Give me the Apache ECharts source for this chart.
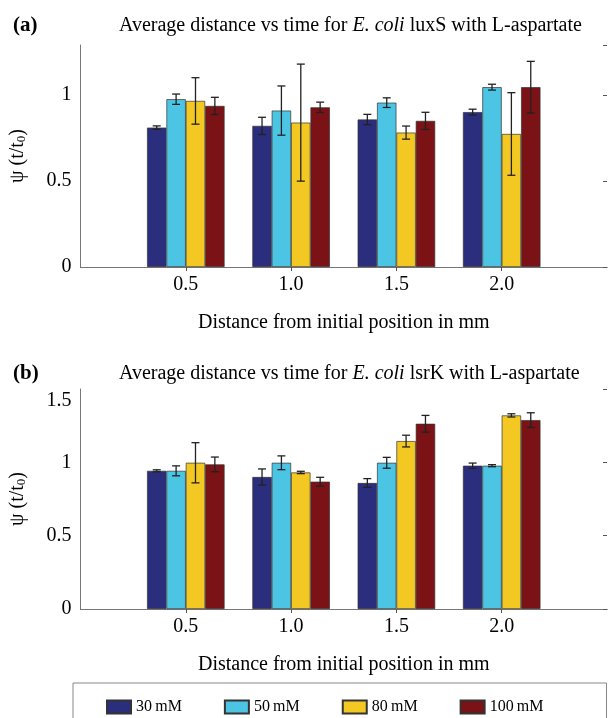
<!DOCTYPE html>
<html>
<head>
<meta charset="utf-8">
<script src="https://cdn.jsdelivr.net/npm/echarts@6/dist/echarts.min.js"></script>
<style>
  html, body { margin: 0; padding: 0; background: #fff; }
  #chart { width: 610px; height: 718px; }
</style>
</head>
<body>
<div id="chart"></div>
<script>
  // distances (mm) and concentrations
  var categories = ['0.5', '1.0', '1.5', '2.0'];
  var seriesNames = ['30\u2009mM', '50\u2009mM', '80\u2009mM', '100\u2009mM'];
  var colors = ['#2b2e7d', '#4cc4e4', '#f4c822', '#7b1216'];

  // (a) E. coli luxS
  var luxs30 = [0.81, 0.82, 0.857, 0.90];
  var luxs50 = [0.975, 0.909, 0.955, 1.045];
  var luxs80 = [0.965, 0.839, 0.781, 0.773];
  var luxs100 = [0.936, 0.928, 0.849, 1.045];
  var luxs30Err = [0.01, 0.05, 0.03, 0.017];
  var luxs50Err = [0.03, 0.143, 0.028, 0.017];
  var luxs80Err = [0.135, 0.34, 0.038, 0.24];
  var luxs100Err = [0.05, 0.03, 0.05, 0.15];

  // (b) E. coli lsrK
  var lsrk30 = [0.942, 0.90, 0.859, 0.977];
  var lsrk50 = [0.942, 0.997, 0.997, 0.977];
  var lsrk80 = [0.997, 0.931, 1.145, 1.32];
  var lsrk100 = [0.986, 0.868, 1.263, 1.288];
  var lsrk30Err = [0.007, 0.055, 0.03, 0.018];
  var lsrk50Err = [0.034, 0.047, 0.037, 0.007];
  var lsrk80Err = [0.137, 0.008, 0.04, 0.011];
  var lsrk100Err = [0.05, 0.03, 0.057, 0.05];

  var BAR_FRAC = 0.184;
  var FONT = 'Liberation Serif';

  // pad categories so the axis runs from 0 to 5 like the original
  var axisCats = [''].concat(categories, ['']);

  function padded(arr) {
    return ['-'].concat(arr, ['-']);
  }

  function errData(mean, err) {
    return mean.map(function (m, i) { return [i + 1, m, err[i]]; });
  }

  function errRender(k) {
    return function (params, api) {
      var x = api.value(0), y = api.value(1), e = api.value(2);
      var band = api.size([1, 0])[0];
      var off = (k - 1.5) * BAR_FRAC * band;
      var hi = api.coord([x, y + e]);
      var lo = api.coord([x, y - e]);
      var cx = hi[0] + off;
      var cap = 4;
      var style = { stroke: '#222', lineWidth: 1.3 };
      return {
        type: 'group',
        children: [
          { type: 'line', shape: { x1: cx, y1: hi[1], x2: cx, y2: lo[1] }, style: style },
          { type: 'line', shape: { x1: cx - cap, y1: hi[1], x2: cx + cap, y2: hi[1] }, style: style },
          { type: 'line', shape: { x1: cx - cap, y1: lo[1], x2: cx + cap, y2: lo[1] }, style: style }
        ]
      };
    };
  }

  var tickFilter = function (index) { return index > 0 && index < 5; };

  function bottomAxis(grid) {
    return {
      type: 'category', gridIndex: grid, data: axisCats, boundaryGap: false,
      axisLine: { lineStyle: { color: '#555', width: 1 } },
      axisTick: { show: false },
      axisLabel: { interval: 0, color: '#000', fontFamily: FONT, fontSize: 20, margin: 8 },
      name: 'Distance from initial position in mm', nameLocation: 'middle', nameGap: 46,
      nameTextStyle: { color: '#000', fontFamily: FONT, fontSize: 20 }
    };
  }

  function topAxis(grid) {
    return {
      type: 'category', gridIndex: grid, data: axisCats, boundaryGap: false, position: 'top',
      axisLine: { lineStyle: { color: '#777', width: 1 } },
      axisTick: { show: true, inside: true, length: 4, interval: tickFilter, lineStyle: { color: '#555' } },
      axisLabel: { show: false }
    };
  }

  function leftAxis(grid, max) {
    return {
      type: 'value', gridIndex: grid, min: 0, max: max, interval: 0.5,
      axisLine: { show: true, lineStyle: { color: '#777', width: 1 } },
      axisTick: { show: false },
      splitLine: { show: false },
      axisLabel: {
        color: '#000', fontFamily: FONT, fontSize: 20, margin: 9, showMaxLabel: max === 1.5,
        // the top label of the original sits a little below the frame
        formatter: function (v) { return v === 1.5 ? '{lo|1.5}' : String(v); },
        rich: { lo: { fontFamily: FONT, fontSize: 20, color: '#000', padding: [24, 0, 0, 0] } }
      },
      name: 'ψ (t/t{s|0})', nameLocation: 'middle', nameGap: 52, nameRotate: 90,
      nameTextStyle: {
        color: '#000', fontFamily: FONT, fontSize: 20,
        rich: { s: { fontFamily: FONT, fontSize: 13, color: '#000', padding: [8, 0, 0, 0] } }
      }
    };
  }

  function rightAxis(grid, max) {
    return {
      type: 'value', gridIndex: grid, min: 0, max: max, interval: 0.5, position: 'right',
      axisLine: { show: false },
      axisTick: { show: true, inside: true, length: 4, lineStyle: { color: '#555' } },
      splitLine: { show: false },
      axisLabel: { show: false }
    };
  }

  function panelSeries(means, errs, xIdx, yIdx) {
    var out = [];
    means.forEach(function (m, k) {
      out.push({
        name: seriesNames[k], type: 'bar', xAxisIndex: xIdx, yAxisIndex: yIdx,
        data: padded(m), barWidth: (BAR_FRAC * 100) + '%', barGap: '0%',
        itemStyle: { color: colors[k], borderColor: '#333', borderWidth: 0.7 },
        z: 2
      });
    });
    means.forEach(function (m, k) {
      out.push({
        name: seriesNames[k] + ' err', type: 'custom', xAxisIndex: xIdx, yAxisIndex: yIdx,
        data: errData(m, errs[k]), renderItem: errRender(k),
        encode: { x: 0, y: 1 }, z: 5, silent: true
      });
    });
    return out;
  }

  var titleStyle = { color: '#000', fontFamily: FONT, fontSize: 20, fontWeight: 'normal' };
  var titleRich = { i: { fontFamily: FONT, fontSize: 20, fontStyle: 'italic', color: '#000' } };
  var tagStyle = { color: '#000', fontFamily: FONT, fontSize: 21, fontWeight: 'bold' };

  var chart = echarts.init(document.getElementById('chart'), null, { renderer: 'canvas' });
  chart.setOption({
    animation: false,
    backgroundColor: '#fff',
    title: [
      { text: '(a)', left: 8, top: 10, textStyle: tagStyle },
      { text: 'Average distance vs time for {i|E. coli} luxS with L-aspartate', left: 114, top: 11,
        textStyle: Object.assign({ rich: titleRich }, titleStyle) },
      { text: '(b)', left: 8, top: 358, textStyle: tagStyle },
      { text: 'Average distance vs time for {i|E. coli} lsrK with L-aspartate', left: 114, top: 359,
        textStyle: Object.assign({ rich: titleRich }, titleStyle) }
    ],
    grid: [
      { left: 80, right: 1, top: 45, height: 222 },
      { left: 80, right: 1, top: 389, height: 220 }
    ],
    xAxis: [bottomAxis(0), topAxis(0), bottomAxis(1), topAxis(1)],
    yAxis: [leftAxis(0, 1.29), rightAxis(0, 1.29), leftAxis(1, 1.5), rightAxis(1, 1.5)],
    legend: {
      data: seriesNames, left: 73, top: 683, orient: 'horizontal',
      icon: 'rect', itemWidth: 24, itemHeight: 13, itemGap: 42,
      borderColor: '#888', borderWidth: 1, padding: [16, 63, 30, 33],
      textStyle: { color: '#000', fontFamily: FONT, fontSize: 16 }
    },
    series: []
      .concat(panelSeries([luxs30, luxs50, luxs80, luxs100], [luxs30Err, luxs50Err, luxs80Err, luxs100Err], 0, 0))
      .concat(panelSeries([lsrk30, lsrk50, lsrk80, lsrk100], [lsrk30Err, lsrk50Err, lsrk80Err, lsrk100Err], 2, 2))
  });
</script>
</body>
</html>
